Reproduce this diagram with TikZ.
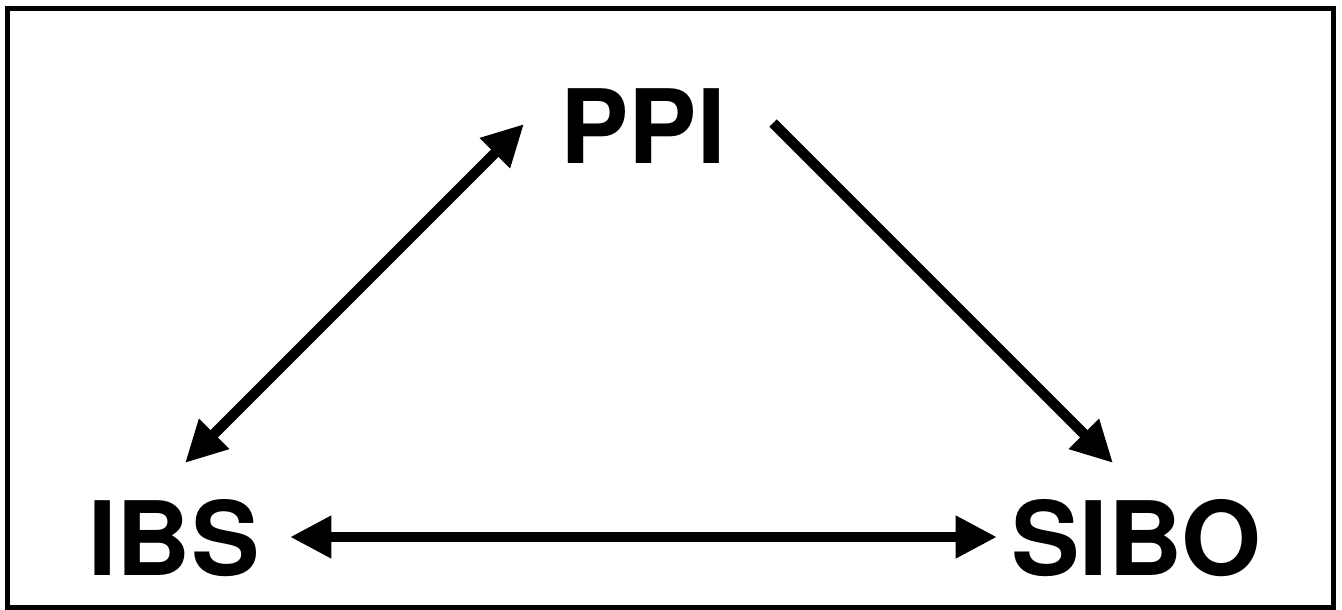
\documentclass[tikz,border=0pt]{standalone}
\usepackage{fontspec}
\setmainfont{TeX Gyre Heros}
\usetikzlibrary{arrows.meta}
\begin{document}
\begin{tikzpicture}[x=0.75pt,y=-0.75pt,
  lbl/.style={inner sep=0pt,font=\fontsize{77}{80}\selectfont\bfseries},
  conn/.style={line width=7.8pt},
  tip/.tip={Triangle[length=31pt,width=30pt]}]
\useasboundingbox (0,0) rectangle (1342,610);
\draw[line width=3.75pt] (7,8.5) rectangle (1333.5,607);
\node[lbl] (ppi) at (643,126) {PPI};
\node[lbl] (ibs) at (174,538) {IBS};
\node[lbl] (sibo) at (1136,538) {SIBO};
\draw[conn,-tip] ([shift={(130,-3)}]ppi.center) -- ([shift={(-23,-75)}]sibo.center);
\draw[conn,tip-tip] ([shift={(11,-75)}]ibs.center) -- ([shift={(-119,-2)}]ppi.center);
\draw[conn,tip-tip] ([shift={(116,-1)}]ibs.center) -- ([shift={(-139,-1)}]sibo.center);
\end{tikzpicture}
\end{document}
